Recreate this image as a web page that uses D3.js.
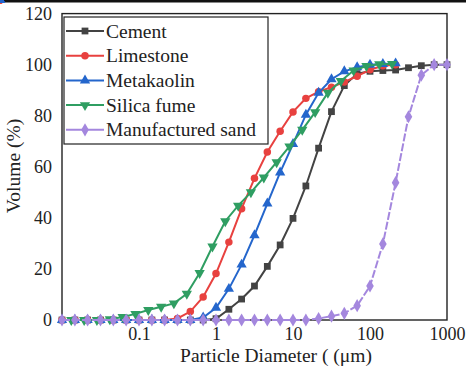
<!DOCTYPE html>
<html>
<head>
<meta charset="utf-8">
<script src="https://cdn.jsdelivr.net/npm/d3@7"></script>
<style>
  html, body { margin: 0; padding: 0; background: #fff; }
  svg { display: block; }
  text { font-family: "Liberation Serif", "Times New Roman", "DejaVu Serif", serif; fill: #222; }
</style>
</head>
<body>
<svg id="chart" width="466" height="369"></svg>
<script>
// Particle sizes (µm) of the laser-diffraction size classes
const sizes = [0.01, 0.0147, 0.0215, 0.0316, 0.0464, 0.0681, 0.1, 0.147, 0.215, 0.316, 0.464, 0.681,
  1, 1.47, 2.15, 3.16, 4.64, 6.81, 10, 14.7, 21.5, 31.6, 46.4, 68.1, 100, 147, 215, 316, 464, 681, 1000];
// Silica fume was measured on a slightly shifted set of classes
const silicaSizes = [0.0132, 0.0194, 0.0284, 0.0418, 0.0613, 0.09, 0.132, 0.194, 0.284, 0.418, 0.613, 0.9,
  1.32, 1.94, 2.84, 4.18, 6.13, 9, 13.2, 19.4, 28.4, 41.8, 61.3, 90, 132, 194];

// Cumulative passing volume (%)
const cement = [0, 0, 0, 0, 0, 0, 0, 0, 0, 0, 0, 0,
  0.5, 4.2, 8.2, 13.3, 21, 29.4, 39.8, 52.5, 67.3, 81.6, 91.8, 96.5, 97.4, 97.7, 97.9, 98.8, 99.6, 100, 100];
const limestone = [0, 0, 0, 0, 0, 0, 0, 0, 0,
  0.6, 3.3, 9, 18.2, 30.5, 43.6, 55.5, 65.8, 73.9, 81.5, 86.8, 89.4, 91.2, 93.2, 95.5, 98, 99.6, 100];
const metakaolin = [0, 0, 0, 0, 0, 0, 0, 0, 0, 0, 0,
  1, 4.8, 12.2, 21.7, 33.2, 45.6, 57.8, 68.9, 80.4, 89, 94.3, 97.4, 99, 100, 100.3, 100.5];
const silicaFume = [0, 0, 0, 0.3, 1.2, 2.4, 3.9, 5.2, 6.5, 10.3, 18.4, 28.8, 38.7, 44.8, 50,
  55.8, 61.8, 68, 74.5, 81.4, 89, 93.6, 97.7, 99.5, 100.2, 100.3];
const sand = [0, 0, 0, 0, 0, 0, 0, 0, 0, 0, 0, 0, 0, 0, 0, 0, 0, 0, 0, 0,
  0.6, 1.5, 2.6, 5.6, 13.3, 29.8, 53.8, 79.6, 95.9, 100, 100];

const xTicks = [0.1, 1, 10, 100, 1000];
const yTicks = [0, 20, 40, 60, 80, 100, 120];

const seriesList = [
  { name: "Cement", x: sizes, y: cement, color: "#434343", symbol: d3.symbolSquare, size: 46, rot: 0 },
  { name: "Limestone", x: sizes, y: limestone, color: "#e8413f", symbol: d3.symbolCircle, size: 44, rot: 0 },
  { name: "Metakaolin", x: sizes, y: metakaolin, color: "#2466cc", symbol: d3.symbolTriangle, size: 46, rot: 0 },
  { name: "Silica fume", x: silicaSizes, y: silicaFume, color: "#2f9e62", symbol: d3.symbolTriangle, size: 46, rot: 180 },
  { name: "Manufactured sand", x: sizes, y: sand, color: "#a487de", symbol: d3.symbolDiamond, size: 50, rot: 0, dash: "8,2" }
];

const svg = d3.select("#chart");
const W = 466, H = 369;
const plot = { left: 62, right: 447, top: 13.6, bottom: 320 };

const x = d3.scaleLog().domain([0.01, 1000]).range([plot.left, plot.right]);
const y = d3.scaleLinear().domain([0, 120]).range([plot.bottom, plot.top]);

// dark strip along the top edge
svg.append("rect").attr("x", 0).attr("y", 0).attr("width", W).attr("height", 2.5).attr("fill", "#111");

// plot frame
svg.append("rect")
  .attr("x", plot.left).attr("y", plot.top)
  .attr("width", plot.right - plot.left).attr("height", plot.bottom - plot.top)
  .attr("fill", "none").attr("stroke", "#222").attr("stroke-width", 1.4);

// axes (labels only, no tick marks)
const xAxis = d3.axisBottom(x).tickValues(xTicks).tickSize(0).tickPadding(7)
  .tickFormat(d => d3.format("~g")(d));
svg.append("g").attr("transform", `translate(0,${plot.bottom})`).call(xAxis)
  .attr("font-family", null)
  .call(g => g.select(".domain").remove())
  .call(g => g.selectAll("text").attr("font-size", 18).attr("fill", "#222"));

const yAxis = d3.axisLeft(y).tickValues(yTicks).tickSize(0).tickPadding(10);
svg.append("g").attr("transform", `translate(${plot.left},0)`).call(yAxis)
  .attr("font-family", null)
  .call(g => g.select(".domain").remove())
  .call(g => g.selectAll("text").attr("font-size", 18).attr("fill", "#222"));

// series
const line = d3.line().x(d => x(d[0])).y(d => y(d[1]));
seriesList.forEach(s => {
  const pts = s.x.map((v, i) => [v, s.y[i]]);
  const g = svg.append("g");
  g.append("path").datum(pts).attr("d", line)
    .attr("fill", "none").attr("stroke", s.color).attr("stroke-width", 2)
    .attr("stroke-dasharray", s.dash || null);
  g.selectAll("path.m").data(pts).join("path").attr("class", "m")
    .attr("d", d3.symbol().type(s.symbol).size(s.size))
    .attr("transform", d => `translate(${x(d[0])},${y(d[1])}) rotate(${s.rot})`)
    .attr("fill", s.color);
});

// legend
const leg = svg.append("g");
leg.append("rect").attr("x", 64).attr("y", 17).attr("width", 204).attr("height", 127)
  .attr("fill", "#fff").attr("stroke", "#222").attr("stroke-width", 1.2);
seriesList.forEach((s, i) => {
  const cy = 31 + i * 24.7;
  leg.append("line").attr("x1", 66).attr("x2", 104).attr("y1", cy).attr("y2", cy)
    .attr("stroke", s.color).attr("stroke-width", 2);
  leg.append("path").attr("d", d3.symbol().type(s.symbol).size(s.size))
    .attr("transform", `translate(85,${cy}) rotate(${s.rot})`).attr("fill", s.color);
  leg.append("text").attr("x", 106).attr("y", cy + 6.5).attr("font-size", 19.5).text(s.name);
});

// axis titles
svg.append("text").attr("x", 276).attr("y", 362).attr("text-anchor", "middle")
  .attr("font-size", 19.5).text("Particle Diameter ( (\u03bcm)");
svg.append("text").attr("transform", "translate(20,166) rotate(-90)").attr("text-anchor", "middle")
  .attr("font-size", 19.5).text("Volume (%)");
</script>
</body>
</html>
